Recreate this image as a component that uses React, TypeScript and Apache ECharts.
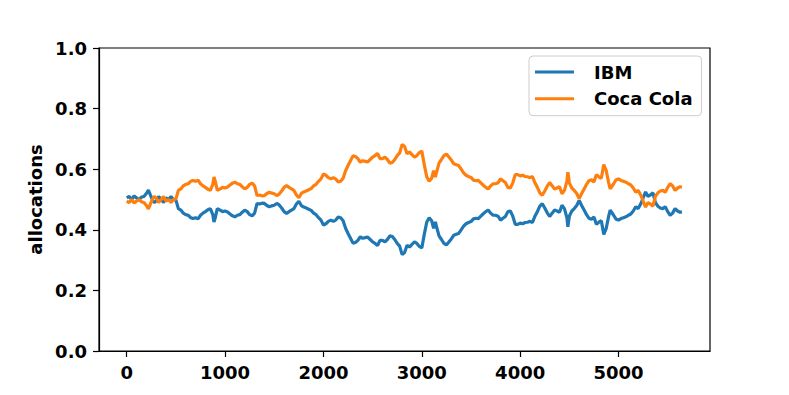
import React, { useEffect, useRef } from "react";
import * as echarts from "echarts";

const steps = [
  0, 25, 50, 75, 100, 125, 150, 175, 200, 220, 240, 260, 280, 300, 325, 350, 375, 400, 425, 450, 475,
  500, 525, 550, 575, 600, 625, 650, 675, 700, 725, 750, 775, 800, 825, 850, 875, 887, 900, 921, 950, 975,
  1000, 1025, 1050, 1075, 1100, 1125, 1150, 1175, 1200, 1225, 1250, 1275, 1300, 1325, 1350, 1375, 1400, 1425, 1450, 1475,
  1500, 1525, 1550, 1575, 1600, 1625, 1650, 1675, 1700, 1725, 1750, 1775, 1800, 1825, 1850, 1875, 1900, 1925, 1950, 1975,
  2000, 2025, 2050, 2075, 2100, 2125, 2150, 2175, 2200, 2225, 2250, 2275, 2300, 2325, 2350, 2375, 2400, 2425, 2450, 2475,
  2500, 2525, 2550, 2575, 2600, 2625, 2650, 2675, 2700, 2725, 2750, 2775, 2800, 2825, 2850, 2875, 2900, 2925, 2950, 2975,
  3000, 3025, 3050, 3075, 3100, 3120, 3138, 3150, 3175, 3200, 3225, 3250, 3275, 3300, 3325, 3350, 3375, 3400, 3425, 3450, 3475,
  3500, 3525, 3550, 3575, 3600, 3625, 3650, 3675, 3700, 3725, 3750, 3775, 3800, 3825, 3850, 3875, 3900, 3925, 3950, 3975,
  4000, 4025, 4050, 4075, 4100, 4125, 4150, 4175, 4200, 4225, 4250, 4275, 4300, 4325, 4350, 4375, 4400, 4425, 4450, 4475, 4485,
  4500, 4525, 4550, 4575, 4600, 4625, 4650, 4675, 4700, 4725, 4750, 4775, 4800, 4825, 4850, 4875, 4900, 4915, 4950, 4975,
  5000, 5025, 5050, 5075, 5100, 5125, 5150, 5175, 5200, 5225, 5250, 5275, 5300, 5325, 5350, 5375, 5400, 5425, 5450, 5475,
  5500, 5525, 5550, 5575, 5600, 5625, 5645,
];

const ibm = [
  0.505, 0.51, 0.5, 0.512, 0.505, 0.5, 0.508, 0.51, 0.52, 0.531, 0.515, 0.5, 0.49, 0.495, 0.51, 0.5, 0.49, 0.505, 0.5, 0.51, 0.5,
  0.498, 0.47, 0.465, 0.455, 0.45, 0.448, 0.44, 0.437, 0.44, 0.436, 0.448, 0.455, 0.46, 0.466, 0.47, 0.45, 0.426, 0.44, 0.47, 0.465, 0.46,
  0.462, 0.459, 0.452, 0.446, 0.443, 0.448, 0.45, 0.458, 0.465, 0.46, 0.45, 0.446, 0.455, 0.487, 0.485, 0.488, 0.487, 0.48, 0.476, 0.479,
  0.481, 0.487, 0.482, 0.472, 0.46, 0.454, 0.46, 0.465, 0.47, 0.485, 0.494, 0.48, 0.475, 0.472, 0.468, 0.464, 0.455, 0.45, 0.44, 0.432,
  0.416, 0.42, 0.428, 0.432, 0.428, 0.432, 0.442, 0.44, 0.43, 0.405, 0.388, 0.372, 0.356, 0.358, 0.365, 0.377, 0.372, 0.374, 0.376, 0.368,
  0.36, 0.355, 0.348, 0.365, 0.365, 0.36, 0.368, 0.38, 0.378, 0.368, 0.355, 0.346, 0.318, 0.325, 0.349, 0.343, 0.352, 0.36, 0.355, 0.345,
  0.34, 0.385, 0.425, 0.44, 0.43, 0.405, 0.426, 0.41, 0.38, 0.368, 0.355, 0.35, 0.36, 0.37, 0.382, 0.385, 0.388, 0.4, 0.412, 0.42, 0.424,
  0.427, 0.436, 0.438, 0.437, 0.445, 0.453, 0.46, 0.465, 0.455, 0.448, 0.448, 0.445, 0.432, 0.438, 0.444, 0.46, 0.462, 0.445, 0.418, 0.418,
  0.422, 0.42, 0.424, 0.425, 0.428, 0.424, 0.445, 0.46, 0.478, 0.486, 0.472, 0.456, 0.444, 0.455, 0.465, 0.462, 0.458, 0.481, 0.47, 0.44, 0.41,
  0.445, 0.462, 0.47, 0.48, 0.497, 0.48, 0.465, 0.45, 0.438, 0.435, 0.442, 0.418, 0.425, 0.43, 0.385, 0.405, 0.445, 0.465, 0.448, 0.435,
  0.432, 0.437, 0.44, 0.443, 0.448, 0.452, 0.462, 0.476, 0.47, 0.485, 0.505, 0.525, 0.51, 0.515, 0.522, 0.49, 0.478, 0.472, 0.47, 0.476,
  0.46, 0.448, 0.455, 0.47, 0.462, 0.458, 0.459,
];

const cocaCola = [
  0.495, 0.49, 0.5, 0.488, 0.495, 0.5, 0.492, 0.49, 0.48, 0.469, 0.485, 0.5, 0.51, 0.505, 0.49, 0.5, 0.51, 0.495, 0.5, 0.49, 0.5,
  0.502, 0.53, 0.535, 0.545, 0.55, 0.552, 0.56, 0.563, 0.56, 0.564, 0.552, 0.545, 0.54, 0.534, 0.53, 0.55, 0.574, 0.56, 0.53, 0.535, 0.54,
  0.538, 0.541, 0.548, 0.554, 0.557, 0.552, 0.55, 0.542, 0.535, 0.54, 0.55, 0.554, 0.545, 0.513, 0.515, 0.512, 0.513, 0.52, 0.524, 0.521,
  0.519, 0.513, 0.518, 0.528, 0.54, 0.546, 0.54, 0.535, 0.53, 0.515, 0.506, 0.52, 0.525, 0.528, 0.532, 0.536, 0.545, 0.55, 0.56, 0.568,
  0.584, 0.58, 0.572, 0.568, 0.572, 0.568, 0.558, 0.56, 0.57, 0.595, 0.612, 0.628, 0.644, 0.642, 0.635, 0.623, 0.628, 0.626, 0.624, 0.632,
  0.64, 0.645, 0.652, 0.635, 0.635, 0.64, 0.632, 0.62, 0.622, 0.632, 0.645, 0.654, 0.682, 0.675, 0.651, 0.657, 0.648, 0.64, 0.645, 0.655,
  0.66, 0.615, 0.575, 0.56, 0.57, 0.595, 0.574, 0.59, 0.62, 0.632, 0.645, 0.65, 0.64, 0.63, 0.618, 0.615, 0.612, 0.6, 0.588, 0.58, 0.576,
  0.573, 0.564, 0.562, 0.563, 0.555, 0.547, 0.54, 0.535, 0.545, 0.552, 0.552, 0.555, 0.568, 0.562, 0.556, 0.54, 0.538, 0.555, 0.582, 0.582,
  0.578, 0.58, 0.576, 0.575, 0.572, 0.576, 0.555, 0.54, 0.522, 0.514, 0.528, 0.544, 0.556, 0.545, 0.535, 0.538, 0.542, 0.519, 0.53, 0.56, 0.59,
  0.555, 0.538, 0.53, 0.52, 0.503, 0.52, 0.535, 0.55, 0.562, 0.565, 0.558, 0.582, 0.575, 0.57, 0.615, 0.595, 0.555, 0.535, 0.552, 0.565,
  0.568, 0.563, 0.56, 0.557, 0.552, 0.548, 0.538, 0.524, 0.53, 0.515, 0.495, 0.475, 0.49, 0.485, 0.478, 0.51, 0.522, 0.528, 0.53, 0.524,
  0.54, 0.552, 0.545, 0.53, 0.538, 0.542, 0.541,
];

const xTicks = [0, 1000, 2000, 3000, 4000, 5000];

const FONT = "DejaVu Sans";

export default function App() {
  const ref = useRef<HTMLDivElement>(null);
  useEffect(() => {
    if (!ref.current) return;
    const chart = echarts.init(ref.current, null, { renderer: "svg" });
    const labelStyle = { fontFamily: FONT, fontWeight: "bold" as const, fontSize: 18, color: "#000" };
    chart.setOption({
      animation: false,
      backgroundColor: "#fff",
      grid: { left: 99, right: 79, top: 48, bottom: 44, show: true, borderColor: "#000", borderWidth: 1.2, backgroundColor: "transparent" },
      legend: {
        orient: "vertical",
        left: 529,
        top: 56,
        padding: [7, 9, 8, 6],
        itemGap: 8.7,
        itemWidth: 39,
        itemHeight: 3,
        icon: "rect",
        backgroundColor: "rgba(255,255,255,0.8)",
        borderColor: "#cccccc",
        borderWidth: 1,
        borderRadius: 4,
        textStyle: { ...labelStyle, lineHeight: 18, padding: [0, 0, 0, 15] },
        data: ["IBM", "Coca Cola"],
      },
      xAxis: {
        type: "value",
        min: -282,
        max: 5930,
        axisLine: { show: true, onZero: false, lineStyle: { color: "#000", width: 1.2 } },
        axisTick: { show: true, customValues: xTicks, length: 6, lineStyle: { color: "#000", width: 1.2 } },
        axisLabel: { ...labelStyle, customValues: xTicks, margin: 12, formatter: (v: number) => String(v) },
        splitLine: { show: false },
      },
      yAxis: {
        type: "value",
        min: 0,
        max: 1,
        interval: 0.2,
        name: "allocations",
        nameLocation: "middle",
        nameGap: 52,
        nameTextStyle: labelStyle,
        axisLine: { show: true, onZero: false, lineStyle: { color: "#000", width: 1.2 } },
        axisTick: { show: true, length: 6, lineStyle: { color: "#000", width: 1.2 } },
        axisLabel: { ...labelStyle, margin: 12, formatter: (v: number) => v.toFixed(1) },
        splitLine: { show: false },
      },
      series: [
        {
          name: "IBM",
          type: "line",
          showSymbol: false,
          symbol: "none",
          color: "#1f77b4",
          lineStyle: { width: 3.2, color: "#1f77b4", join: "bevel" },
          data: steps.map((s, i) => [s, ibm[i]]),
        },
        {
          name: "Coca Cola",
          type: "line",
          showSymbol: false,
          symbol: "none",
          color: "#ff7f0e",
          lineStyle: { width: 3.2, color: "#ff7f0e", join: "bevel" },
          data: steps.map((s, i) => [s, cocaCola[i]]),
        },
      ],
    });
    return () => chart.dispose();
  }, []);
  return <div ref={ref} style={{ position: "fixed", left: 0, top: 0, width: 789, height: 395, background: "#fff" }} />;
}
